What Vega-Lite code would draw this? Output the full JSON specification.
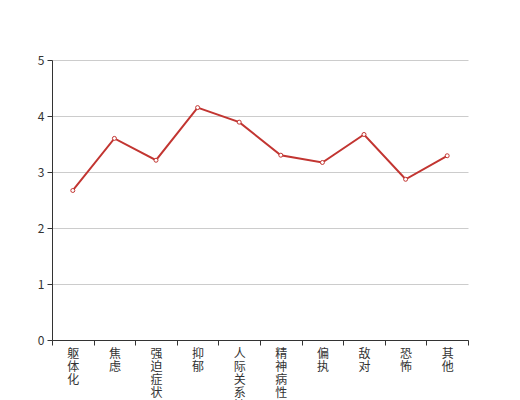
{
  "$schema": "https://vega.github.io/schema/vega-lite/v6.json",
  "autosize": {"type": "none"},
  "width": 416,
  "height": 280,
  "padding": {"left": 52, "top": 60, "right": 52, "bottom": 60},
  "background": "white",
  "config": {
    "view": {"stroke": null},
    "font": "Noto Sans CJK SC",
    "axis": {"labelFont": "Noto Sans CJK SC", "labelColor": "#333", "labelFontSize": 12, "domainColor": "#333", "tickColor": "#333", "tickSize": 5, "title": null}
  },
  "data": {
    "values": [
      {"category": "躯体化", "value": 2.67},
      {"category": "焦虑", "value": 3.60},
      {"category": "强迫症状", "value": 3.21},
      {"category": "抑郁", "value": 4.15},
      {"category": "人际关系敏感", "value": 3.89},
      {"category": "精神病性", "value": 3.30},
      {"category": "偏执", "value": 3.17},
      {"category": "敌对", "value": 3.67},
      {"category": "恐怖", "value": 2.87},
      {"category": "其他", "value": 3.29}
    ]
  },
  "encoding": {
    "x": {
      "field": "category", "type": "nominal", "sort": null,
      "scale": {"type": "band", "paddingInner": 0, "paddingOuter": 0},
      "axis": {"labelAngle": 0, "labelAlign": "center", "labelBaseline": "top", "labelLineHeight": 13, "labelPadding": 3, "tickBand": "extent", "grid": false, "domainWidth": 1, "labelExpr": "split(datum.label, '')"}
    },
    "y": {
      "field": "value", "type": "quantitative",
      "scale": {"domain": [0, 5]},
      "axis": {"values": [0, 1, 2, 3, 4, 5], "grid": true, "gridColor": "#ccc", "labelPadding": 3, "domain": true}
    }
  },
  "layer": [
    {"mark": {"type": "line", "color": "#c23531", "strokeWidth": 2}},
    {"mark": {"type": "point", "shape": "circle", "size": 16, "filled": true, "fill": "white", "stroke": "#c23531", "strokeWidth": 1, "opacity": 1}}
  ]
}
